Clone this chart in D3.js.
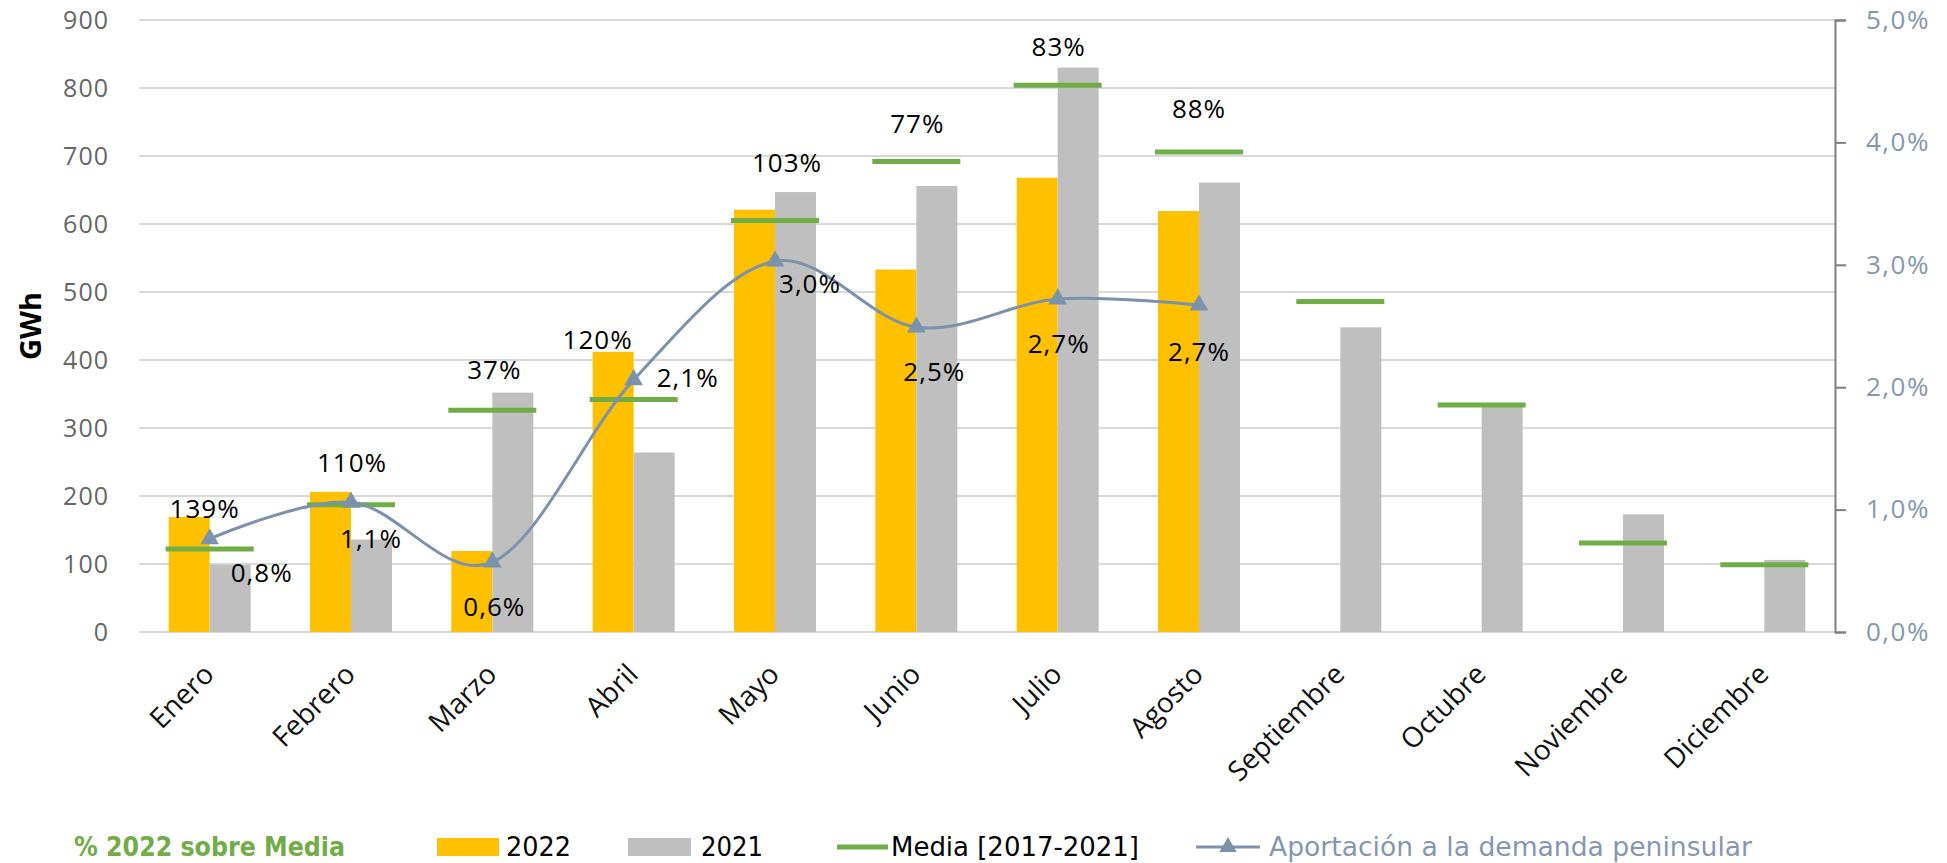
<!DOCTYPE html>
<html>
<head>
<meta charset="utf-8">
<script src="https://cdn.jsdelivr.net/npm/d3@7"></script>
<style>
  body { margin: 0; background: #fff; }
  svg { display: block; }
</style>
</head>
<body>
<div id="chart"></div>
<script>
// data
var months = ["Enero","Febrero","Marzo","Abril","Mayo","Junio","Julio","Agosto","Septiembre","Octubre","Noviembre","Diciembre"];
var gwh2022 = [169, 206, 119, 412, 621, 533, 668, 619];
var gwh2021 = [99, 136, 352, 264, 647, 656, 830, 661, 448, 331, 173, 106];
var media = [122, 187, 326, 342, 605, 692, 804, 706, 486, 334, 131, 99];
var aportacion = [0.76, 1.06, 0.57, 2.06, 3.03, 2.49, 2.72, 2.67]; // % demanda peninsular
var pct2022 = ["139%", "110%", "37%", "120%", "103%", "77%", "83%", "88%"];
var yTicks = [0, 100, 200, 300, 400, 500, 600, 700, 800, 900];
var y2Ticks = [0, 0.01, 0.02, 0.03, 0.04, 0.05];

// label nudges (px) relative to their anchor, layout only
var pctNudge = [[-5,-9],[1,-30],[2,-24],[-36,-13],[12,-30],[1,-38],[1,-22],[0,-44]];
var apoNudge = [[52,33],[20,36],[2,44],[54,-3],[35,22],[18,44],[1,44],[0,46]];

var W = 1947, H = 863;
var plotL = 139, plotR = 1835, plotT = 20, plotB = 632;

var es = d3.formatLocale({decimal: ",", thousands: ".", grouping: [3], currency: ["", " €"]});

var svg = d3.select("#chart").append("svg")
    .attr("width", W)
    .attr("height", H);

var x = d3.scaleBand().domain(months).range([plotL, plotR]).paddingInner(0.42).paddingOuter(0.21);
var xs = d3.scaleBand().domain(["2022","2021"]).range([0, x.bandwidth()]);
var y = d3.scaleLinear().domain([0, 900]).range([plotB, plotT]);
var y2 = d3.scaleLinear().domain([0, 0.05]).range([plotB, plotT]);
var cx = function(m) { return x(m) + x.bandwidth() / 2; };

// gridlines
svg.append("g").selectAll("line")
    .data(yTicks).enter().append("line")
    .attr("x1", plotL).attr("x2", plotR)
    .attr("y1", function(d) { return y(d); })
    .attr("y2", function(d) { return y(d); })
    .attr("stroke", "#d9d9d9")
    .attr("stroke-width", 2);

// left axis
var gy = svg.append("g")
    .attr("transform", "translate(" + plotL + ",0)")
    .call(d3.axisLeft(y).tickValues(yTicks).tickSize(0).tickPadding(30));
gy.select(".domain").remove();
gy.selectAll("text")
    .attr("font-family", "'Open Sans', sans-serif")
    .attr("font-size", 25)
    .attr("letter-spacing", 1)
    .attr("fill", "#666");

svg.append("text")
    .attr("transform", "translate(41,326) rotate(-90)")
    .attr("text-anchor", "middle")
    .attr("font-family", "'Open Sans', sans-serif")
    .attr("font-weight", "bold")
    .attr("font-size", 29)
    .attr("fill", "#000")
    .text("GWh");

// right axis
var gy2 = svg.append("g")
    .attr("transform", "translate(" + plotR + ",0)")
    .call(d3.axisRight(y2).tickValues(y2Ticks).tickSize(11).tickPadding(20).tickFormat(es.format(".1%")));
gy2.select(".domain").attr("stroke", "#7f7f7f").attr("stroke-width", 2);
gy2.selectAll(".tick line").attr("stroke", "#7f7f7f").attr("stroke-width", 2);
gy2.selectAll("text")
    .attr("font-family", "'Open Sans', sans-serif")
    .attr("font-size", 26)
    .attr("letter-spacing", 1.5)
    .attr("fill", "#8497b0");

// month labels
svg.append("g").selectAll("text")
    .data(months).enter().append("text")
    .attr("transform", function(d) { return "translate(" + (cx(d) + 6) + "," + (plotB + 44) + ") rotate(-45)"; })
    .attr("text-anchor", "end")
    .attr("font-family", "'Open Sans', sans-serif")
    .attr("font-size", 28)
    .attr("fill", "#111")
    .text(function(d) { return d; });

// bars
svg.append("g").selectAll("rect")
    .data(gwh2022).enter().append("rect")
    .attr("x", function(d, i) { return x(months[i]) + xs("2022"); })
    .attr("y", function(d) { return y(d); })
    .attr("width", xs.bandwidth())
    .attr("height", function(d) { return y(0) - y(d); })
    .attr("fill", "#ffc000");

svg.append("g").selectAll("rect")
    .data(gwh2021).enter().append("rect")
    .attr("x", function(d, i) { return x(months[i]) + xs("2021"); })
    .attr("y", function(d) { return y(d); })
    .attr("width", xs.bandwidth())
    .attr("height", function(d) { return y(0) - y(d); })
    .attr("fill", "#bfbfbf");

// media marks
svg.append("g").selectAll("line")
    .data(media).enter().append("line")
    .attr("x1", function(d, i) { return cx(months[i]) - 44; })
    .attr("x2", function(d, i) { return cx(months[i]) + 44; })
    .attr("y1", function(d) { return y(d); })
    .attr("y2", function(d) { return y(d); })
    .attr("stroke", "#70ad47")
    .attr("stroke-width", 5);

// aportacion line
var line = d3.line()
    .x(function(d, i) { return cx(months[i]); })
    .y(function(d) { return y2(d / 100); })
    .curve(d3.curveCatmullRom.alpha(0));

svg.append("path")
    .datum(aportacion)
    .attr("d", line)
    .attr("fill", "none")
    .attr("stroke", "#7a92ab")
    .attr("stroke-width", 3);

svg.append("g").selectAll("path")
    .data(aportacion).enter().append("path")
    .attr("transform", function(d, i) { return "translate(" + cx(months[i]) + "," + y2(d / 100) + ")"; })
    .attr("d", d3.symbol().type(d3.symbolTriangle).size(150))
    .attr("fill", "#7a92ab");

// labels
var lblFont = "'Open Sans', sans-serif";
svg.append("g").selectAll("text")
    .data(pct2022).enter().append("text")
    .attr("x", function(d, i) { return cx(months[i]) + pctNudge[i][0]; })
    .attr("y", function(d, i) {
        var hi = Math.max(gwh2022[i], gwh2021[i], media[i]);
        return y(hi) + pctNudge[i][1];
    })
    .attr("text-anchor", "middle")
    .attr("dominant-baseline", "central")
    .attr("font-family", lblFont)
    .attr("font-size", 26)
    .attr("letter-spacing", 1)
    .attr("fill", "#000")
    .text(function(d) { return d; });

svg.append("g").selectAll("text")
    .data(aportacion).enter().append("text")
    .attr("x", function(d, i) { return cx(months[i]) + apoNudge[i][0]; })
    .attr("y", function(d, i) { return y2(d / 100) + apoNudge[i][1]; })
    .attr("text-anchor", "middle")
    .attr("dominant-baseline", "central")
    .attr("font-family", lblFont)
    .attr("font-size", 26)
    .attr("letter-spacing", 1)
    .attr("fill", "#000")
    .text(function(d) { return es.format(".1f")(d) + "%"; });

// legend
var lg = svg.append("g").attr("font-family", "'Liberation Sans Narrow', 'DejaVu Sans Condensed', sans-serif").attr("font-size", 26);
var ly = 847;

lg.append("text").attr("x", 74).attr("y", ly).attr("dominant-baseline", "central")
    .attr("font-weight", "bold").attr("fill", "#70ad47")
    .attr("textLength", 271).attr("lengthAdjust", "spacingAndGlyphs")
    .text("% 2022 sobre Media");

lg.append("rect").attr("x", 437).attr("y", ly - 9).attr("width", 62).attr("height", 18).attr("fill", "#ffc000");
lg.append("text").attr("x", 506).attr("y", ly).attr("dominant-baseline", "central")
    .attr("fill", "#000").attr("textLength", 65).attr("lengthAdjust", "spacingAndGlyphs").text("2022");

lg.append("rect").attr("x", 628).attr("y", ly - 9).attr("width", 63).attr("height", 18).attr("fill", "#bfbfbf");
lg.append("text").attr("x", 701).attr("y", ly).attr("dominant-baseline", "central")
    .attr("fill", "#000").attr("textLength", 62).attr("lengthAdjust", "spacingAndGlyphs").text("2021");

lg.append("line").attr("x1", 837).attr("x2", 888).attr("y1", ly).attr("y2", ly)
    .attr("stroke", "#70ad47").attr("stroke-width", 5);
lg.append("text").attr("x", 891).attr("y", ly).attr("dominant-baseline", "central")
    .attr("fill", "#000").attr("textLength", 248).attr("lengthAdjust", "spacingAndGlyphs").text("Media [2017-2021]");

lg.append("line").attr("x1", 1196).attr("x2", 1260).attr("y1", ly).attr("y2", ly)
    .attr("stroke", "#7a92ab").attr("stroke-width", 3);
lg.append("path").attr("transform", "translate(1228," + ly + ")")
    .attr("d", d3.symbol().type(d3.symbolTriangle).size(130)).attr("fill", "#7a92ab");
lg.append("text").attr("x", 1269).attr("y", ly).attr("dominant-baseline", "central")
    .attr("fill", "#8497b0").attr("textLength", 483).attr("lengthAdjust", "spacingAndGlyphs").text("Aportación a la demanda peninsular");
</script>
</body>
</html>
